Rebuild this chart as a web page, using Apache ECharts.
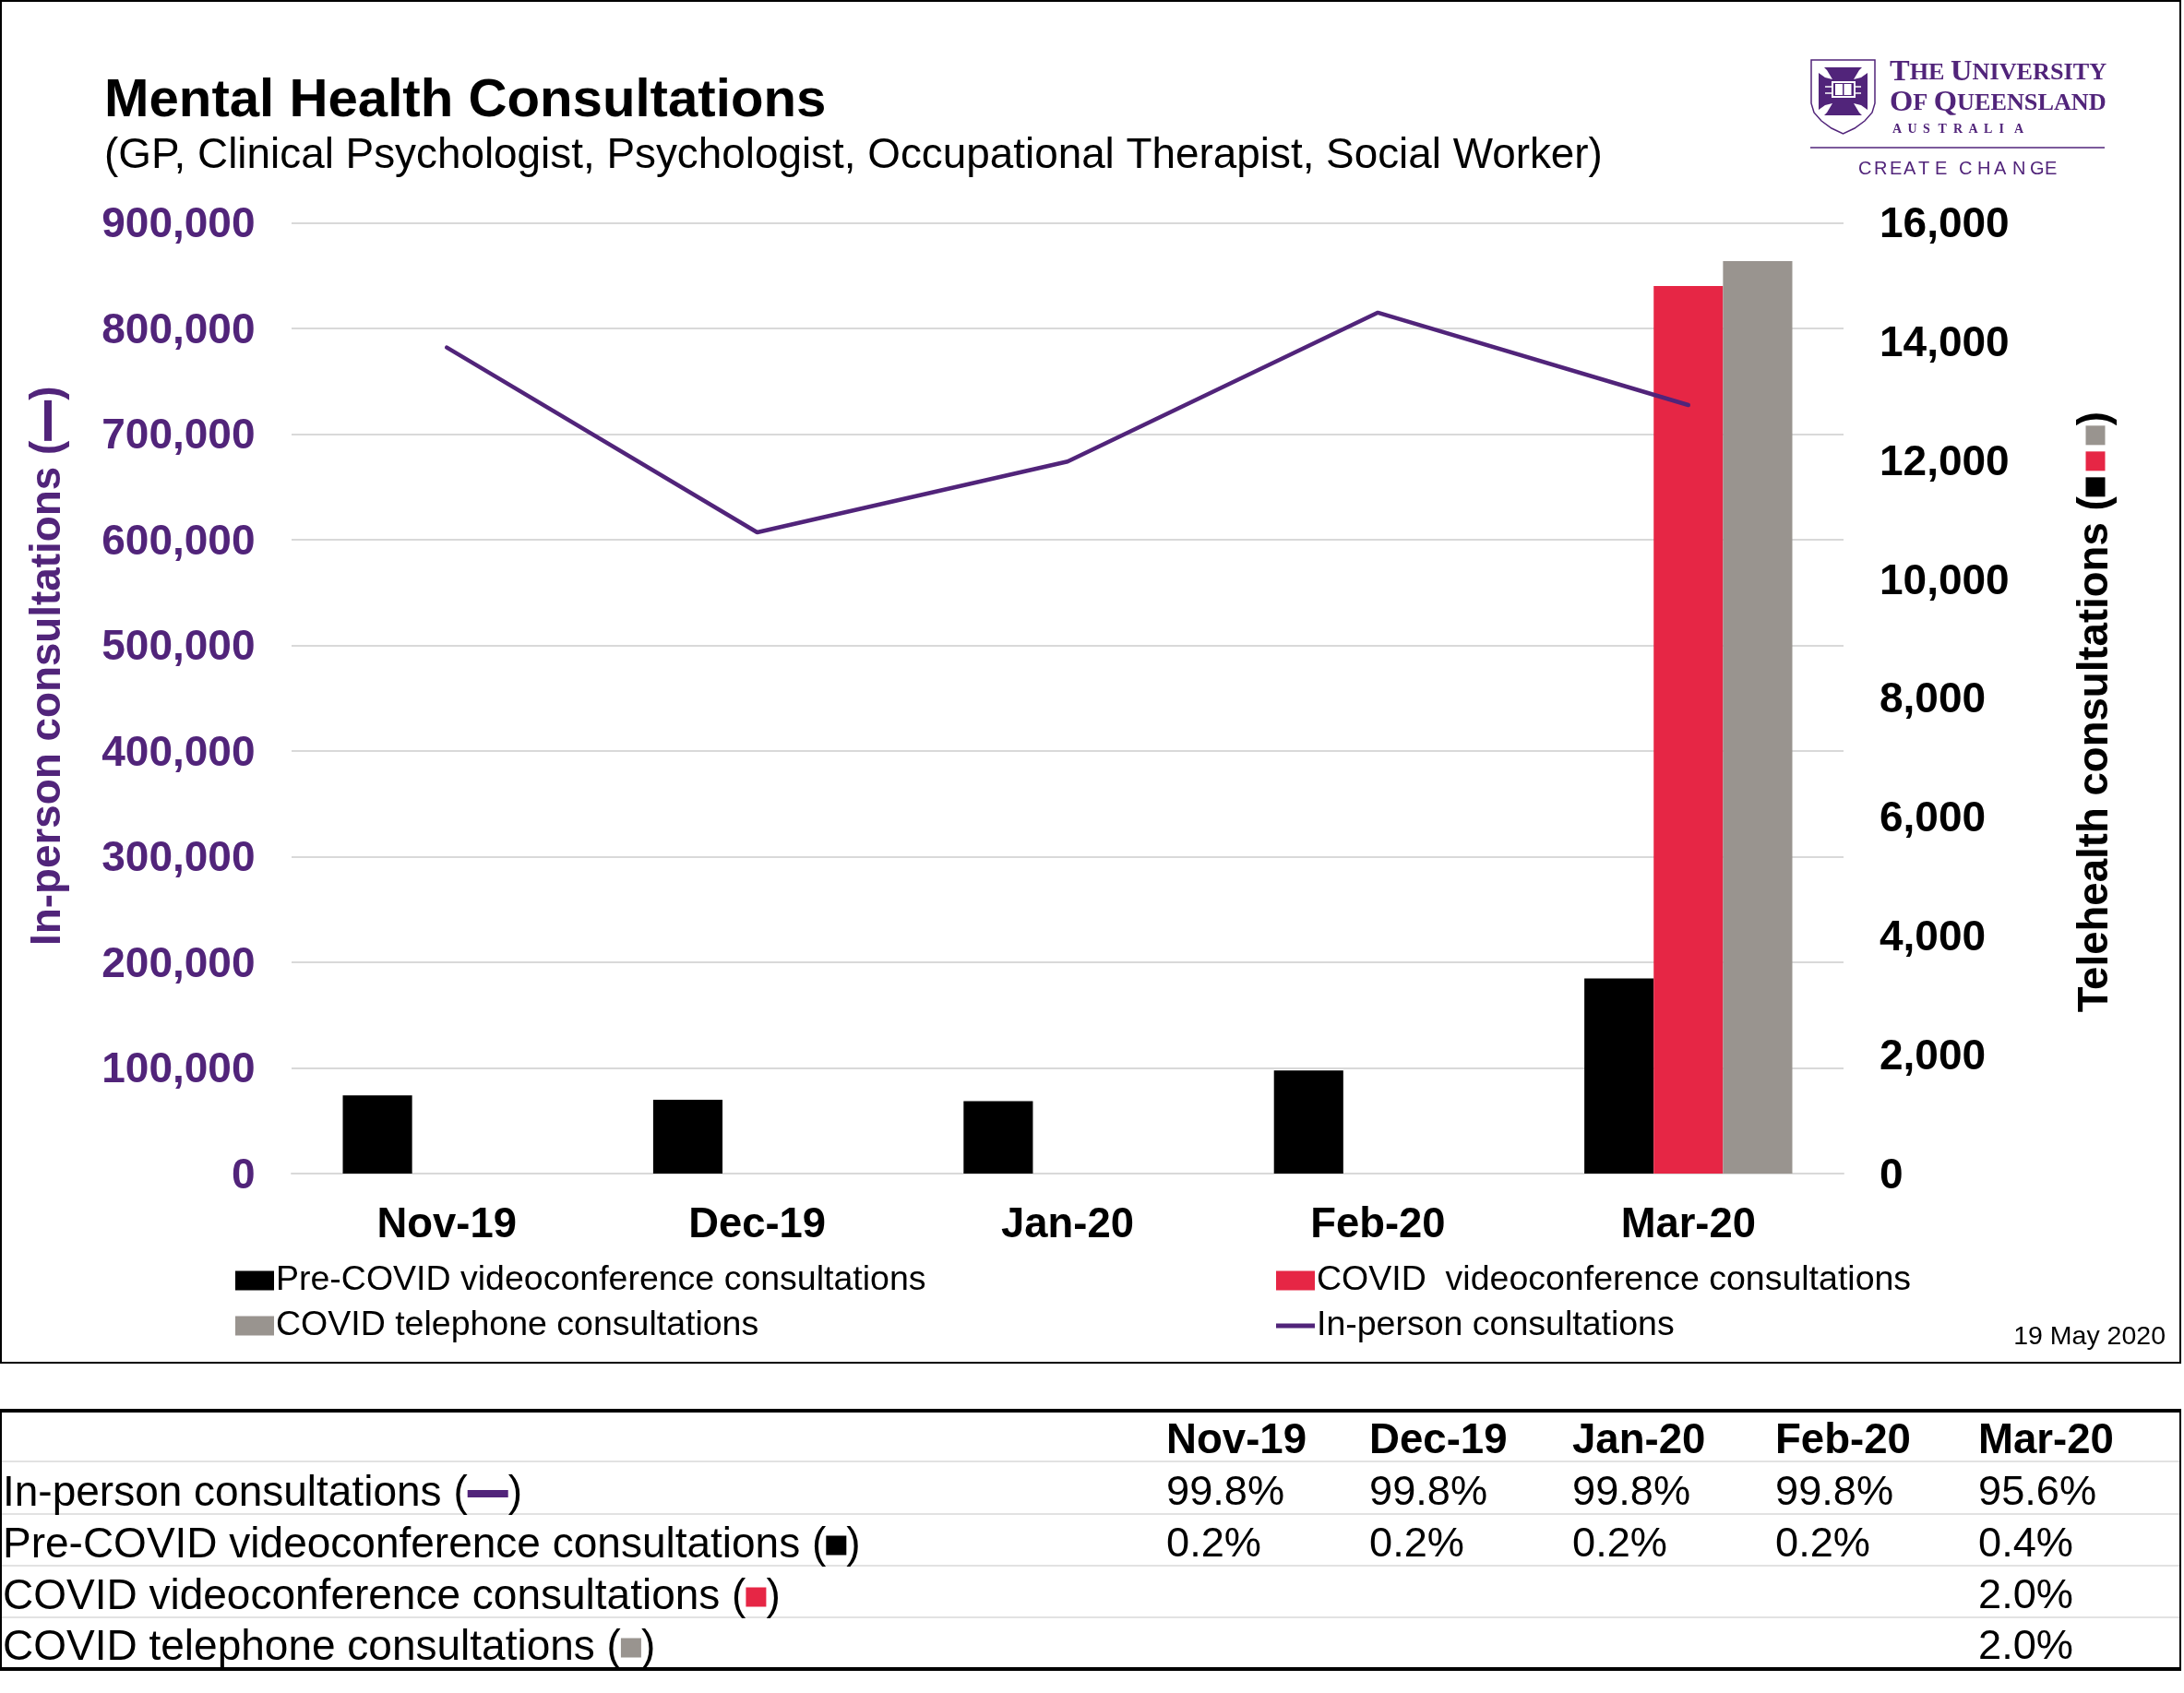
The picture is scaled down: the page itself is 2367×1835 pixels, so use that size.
<!DOCTYPE html>
<html>
<head>
<meta charset="utf-8">
<style>html,body{margin:0;padding:0;background:#fff}#c{width:2367px;height:1835px}</style>
<script src="https://cdn.jsdelivr.net/npm/echarts@6/dist/echarts.min.js"></script>
</head>
<body>
<div id="c"></div>
<script>
const categories = ['Nov-19','Dec-19','Jan-20','Feb-20','Mar-20'];
const inPerson = [782000,607000,674000,815000,727500];
const preCovidVideo = [1314,1243,1220,1736,3284];
const covidVideo = [null,null,null,null,14936];
const covidPhone = [null,null,null,null,15355];
const leftMax = 900000, leftStep = 100000, rightMax = 16000, rightStep = 2000;
const PURPLE = '#51247a', RED = '#e62645', GREY = '#99948f', FONT = '"Liberation Sans", Arial, sans-serif';
const names = {pre:'Pre-COVID videoconference consultations', vid:'COVID  videoconference consultations', tel:'COVID telephone consultations', ip:'In-person consultations'};
const tableHeader = categories;
const tableRows = [
  {label:'In-person consultations (', key:'p', cells:['99.8%','99.8%','99.8%','99.8%','95.6%']},
  {label:'Pre-COVID videoconference consultations (', key:'k', cells:['0.2%','0.2%','0.2%','0.2%','0.4%']},
  {label:'COVID videoconference consultations (', key:'r', cells:['','','','','2.0%']},
  {label:'COVID telephone consultations (', key:'g', cells:['','','','','2.0%']}
];
const tableX = [1264,1484,1704,1924,2144];
const rowLines = [1584,1641,1697,1753];
const rowText = [1562,1619,1675,1731,1786];
const createLetters = 'CREATE CHANGE'.split('');
const createOffsets = [0,17,34,49,65,83,0,109,129,147,167,186,202];

const swatches = {
  p:{width:44,height:8,backgroundColor:PURPLE},
  k:{width:22,height:21,backgroundColor:'#000'},
  r:{width:22,height:21,backgroundColor:RED},
  g:{width:22,height:21,backgroundColor:GREY}
};
const T = (x,y,text,fontSize,extra={})=>({type:'text',silent:true,x,y,style:Object.assign({text,fontFamily:FONT,fontSize,fill:'#000',verticalAlign:'middle'},extra)});
const L = (x1,y1,x2,y2,stroke,lineWidth)=>({type:'line',silent:true,shape:{x1,y1,x2,y2},style:{stroke,lineWidth}});
const R = (x,y,width,height,fill)=>({type:'rect',silent:true,shape:{x,y,width,height},style:{fill}});
const SERIF = '"Liberation Serif",serif';
const capsRich = {a:{fontSize:32.5,fontFamily:SERIF,fontWeight:'bold',fill:PURPLE},b:{fontSize:26.2,fontFamily:SERIF,fontWeight:'bold',fill:PURPLE}};

const graphic = [
  {type:'rect',silent:true,z:-1,shape:{x:1,y:1,width:2362,height:1476},style:{fill:'none',stroke:'#000',lineWidth:2}},
  T(113,110,'Mental Health Consultations',58.2,{fontWeight:'bold'}),
  T(113,169,'(GP, Clinical Psychologist, Psychologist, Occupational Therapist, Social Worker)',45.85),
  T(2347,1449,'19 May 2020',28.5,{textAlign:'right'}),
  // logo
  {type:'polygon',silent:true,shape:{points:[[1963,65],[2032,65],[2032,112],[2029,122],[2021,131],[2010,139],[1997.5,145],[1985,139],[1974,131],[1966,122],[1963,112]]},style:{fill:'#fff',stroke:PURPLE,lineWidth:1.5}},
  {type:'polygon',silent:true,shape:{points:[[1977,73],[2018,73],[2015,76],[2009,86],[2017,84],[2024,79],[2024,119],[2017,114],[2009,112],[2015,122],[2018,125],[1977,125],[1980,122],[1986,112],[1978,114],[1971,119],[1971,79],[1978,84],[1986,86],[1980,76]]},style:{fill:PURPLE}},
  R(1985,88,26,18,'#fff'),
  R(1987,90,22,14,PURPLE),
  R(1989,91,8,12,'#fff'),
  R(1998.5,91,8,12,'#fff'),
  L(1978,94,1985,94,'#fff',1.5),L(1978,101,1985,101,'#fff',1.5),L(2011,94,2017,94,'#fff',1.5),L(2011,101,2017,101,'#fff',1.5),
  T(2048,79,'{a|T}{b|HE }{a|U}{b|NIVERSITY}',32.5,{rich:capsRich}),
  T(2048,112,'{a|O}{b|F }{a|Q}{b|UEENSLAND}',32.5,{rich:capsRich}),
  ...'AUSTRALIA'.split('').map((ch,i)=>T(2051+i*16.5,140,ch,14,{fontFamily:SERIF,fontWeight:'bold',fill:PURPLE})),
  L(1962,160,2281,160,PURPLE,1.5),
  ...createLetters.map((ch,i)=>T(2014+createOffsets[i],183,ch,20,{fill:PURPLE})),
  // table
  L(0,1529,2364,1529,'#000',4),
  L(0,1809,2364,1809,'#000',4),
  L(1,1529,1,1809,'#000',2),
  L(2363,1529,2363,1809,'#000',2),
  ...rowLines.map(y=>L(2,y,2362,y,'#e2e2e2',2)),
  ...tableHeader.map((h,i)=>T(tableX[i],rowText[0],h,45.6,{fontWeight:'bold'})),
  ...tableRows.map((r,j)=>T(3,rowText[j+1],r.label+'{'+r.key+'|})',46,{rich:Object.assign({},swatches)})),
  ...tableRows.flatMap((r,j)=>r.cells.map((c,i)=>T(tableX[i],rowText[j+1],c,45.2)))
];

const legendBase = {orient:'horizontal',itemWidth:42,itemHeight:21,icon:'rect',textStyle:{fontFamily:FONT,fontSize:37.5,color:'#000',padding:[0,0,0,-3]},selectedMode:false};
const option = {
  animation:false,
  backgroundColor:'#fff',
  textStyle:{fontFamily:FONT},
  grid:{left:316,right:369,top:241.5,bottom:563},
  graphic,
  legend:[
    Object.assign({},legendBase,{left:250,top:1364,data:[names.pre]}),
    Object.assign({},legendBase,{left:250,top:1413,data:[names.tel]}),
    Object.assign({},legendBase,{left:1378,top:1364,data:[names.vid]}),
    Object.assign({},legendBase,{left:1378,top:1413,itemHeight:5,data:[names.ip]})
  ],
  xAxis:{type:'category',data:categories,axisTick:{show:false},
    axisLine:{lineStyle:{color:'#d9d9d9',width:2}},
    axisLabel:{color:'#000',fontWeight:'bold',fontSize:45.4,margin:34,fontFamily:FONT}},
  yAxis:[
    {type:'value',min:0,max:leftMax,interval:leftStep,position:'left',
      name:'In-person consultations ({p|})',nameLocation:'middle',nameRotate:90,nameGap:241,
      nameTextStyle:{color:PURPLE,fontWeight:'bold',fontSize:45.8,fontFamily:FONT,padding:[0,0,0,70],rich:{p:{width:44,height:8,backgroundColor:PURPLE}}},
      axisLine:{show:false},axisTick:{show:false},
      axisLabel:{color:PURPLE,fontWeight:'bold',fontSize:46,margin:39.5,verticalAlign:'top',lineHeight:6,fontFamily:FONT,formatter:v=>v.toLocaleString('en-US')},
      splitLine:{show:true,lineStyle:{color:'#d9d9d9',width:2}}},
    {type:'value',min:0,max:rightMax,interval:rightStep,position:'right',
      name:'Telehealth consultations ({k|}{s|}{r|}{s|}{g|})',nameLocation:'middle',nameRotate:90,nameGap:250,
      nameTextStyle:{color:'#000',fontWeight:'bold',fontSize:45.6,fontFamily:FONT,padding:[0,30,0,0],rich:{k:{width:21,height:21,backgroundColor:'#000'},r:{width:21,height:21,backgroundColor:RED},g:{width:21,height:21,backgroundColor:GREY},s:{width:7}}},
      axisLine:{show:false},axisTick:{show:false},
      axisLabel:{color:'#000',fontWeight:'bold',fontSize:46,margin:39,verticalAlign:'top',lineHeight:6,fontFamily:FONT,formatter:v=>v.toLocaleString('en-US')},
      splitLine:{show:false}}
  ],
  series:[
    {name:names.pre,type:'bar',yAxisIndex:1,data:preCovidVideo,barGap:0,barCategoryGap:'33%',itemStyle:{color:'#000'}},
    {name:names.vid,type:'bar',yAxisIndex:1,data:covidVideo,itemStyle:{color:RED}},
    {name:names.tel,type:'bar',yAxisIndex:1,data:covidPhone,itemStyle:{color:GREY}},
    {name:names.ip,type:'line',yAxisIndex:0,data:inPerson,symbol:'none',z:5,lineStyle:{color:PURPLE,width:4.5,cap:'round'},itemStyle:{color:PURPLE}}
  ]
};
echarts.init(document.getElementById('c'),null,{renderer:'canvas'}).setOption(option);
</script>
</body>
</html>
